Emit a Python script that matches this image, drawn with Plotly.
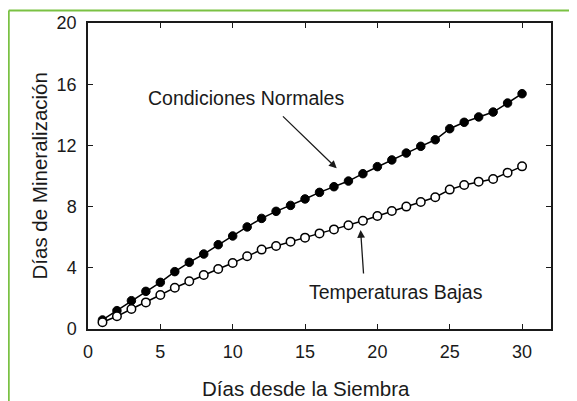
import plotly.graph_objects as go

dias = list(range(1, 31))
normales = [0.59, 1.2, 1.85, 2.46, 3.05, 3.75, 4.36, 4.9, 5.51, 6.08,
            6.67, 7.23, 7.69, 8.08, 8.5, 8.93, 9.3, 9.67, 10.15, 10.61,
            11.05, 11.5, 11.94, 12.37, 13.09, 13.51, 13.86, 14.18, 14.77, 15.38]
bajas = [0.44, 0.83, 1.31, 1.74, 2.22, 2.7, 3.12, 3.53, 3.92, 4.31,
         4.75, 5.19, 5.42, 5.71, 5.97, 6.25, 6.51, 6.78, 7.08, 7.39,
         7.71, 8.0, 8.3, 8.61, 9.11, 9.41, 9.63, 9.8, 10.22, 10.63]
x_ticks = [0, 5, 10, 15, 20, 25, 30]
y_ticks = [0, 4, 8, 12, 16, 20]

FONT = "Liberation Sans, Arial, sans-serif"
INK = "#1a1a1a"

fig = go.Figure()
fig.add_trace(go.Scatter(
    x=dias, y=normales, mode="lines+markers",
    line=dict(color="black", width=1.5),
    marker=dict(symbol="circle", size=8.5, color="black", line=dict(color="black", width=1)),
    name="Condiciones Normales", showlegend=False, cliponaxis=False))
fig.add_trace(go.Scatter(
    x=dias, y=bajas, mode="lines+markers",
    line=dict(color="black", width=1.5),
    marker=dict(symbol="circle", size=8.5, color="white", line=dict(color="black", width=1.5)),
    name="Temperaturas Bajas", showlegend=False, cliponaxis=False))

fig.add_annotation(x=17.19, y=10.5, ax=13.37, ay=13.99, xref="x", yref="y", axref="x", ayref="y",
                   showarrow=True, arrowhead=2, arrowsize=1.2, arrowwidth=1.3, arrowcolor=INK, text="")
fig.add_annotation(x=18.84, y=6.47, ax=19.05, ay=3.53, xref="x", yref="y", axref="x", ayref="y",
                   showarrow=True, arrowhead=2, arrowsize=1.2, arrowwidth=1.3, arrowcolor=INK, text="")
fig.add_annotation(x=10.95, y=15.13, xref="x", yref="y", text="Condiciones Normales",
                   xanchor="center", yanchor="middle",
                   showarrow=False, font=dict(family=FONT, size=19.5, color=INK))
fig.add_annotation(x=21.29, y=2.42, xref="x", yref="y", text="Temperaturas Bajas",
                   xanchor="center", yanchor="middle",
                   showarrow=False, font=dict(family=FONT, size=19.5, color=INK))

# axis titles
fig.add_annotation(x=0.471, y=-0.193, xref="paper", yref="paper", text="Días desde la Siembra",
                   xanchor="center", yanchor="middle",
                   showarrow=False, font=dict(family=FONT, size=20.5, color=INK))
fig.add_annotation(x=-0.1048, y=0.5, xref="paper", yref="paper", text="Días de Mineralización",
                   xanchor="center", yanchor="middle",
                   textangle=-90, showarrow=False, font=dict(family=FONT, size=20.5, color=INK))

# green frame (left and top edges of the image)
fig.add_shape(type="line", xref="paper", yref="paper", x0=-0.1712, x1=-0.1712, y0=1.0408, y1=-0.29,
              line=dict(color="#7ac143", width=2))
fig.add_shape(type="line", xref="paper", yref="paper", x0=-0.1712, x1=1.08, y0=1.0408, y1=1.0408,
              line=dict(color="#7ac143", width=2))

fig.update_xaxes(range=[0, 32], tickvals=x_ticks, ticktext=[str(v) for v in x_ticks],
                 ticks="inside", ticklen=5, tickcolor=INK, showline=True, linecolor=INK, linewidth=1.5,
                 mirror="ticks", showgrid=False, zeroline=False, automargin=False,
                 ticklabelstandoff=6,
                 tickfont=dict(family=FONT, size=18, color=INK))
fig.update_yaxes(range=[0, 20], tickvals=y_ticks, ticktext=[str(v) for v in y_ticks],
                 ticks="inside", ticklen=5, tickcolor=INK, showline=True, linecolor=INK, linewidth=1.5,
                 mirror="ticks", showgrid=False, zeroline=False, automargin=False,
                 ticklabelstandoff=6,
                 tickfont=dict(family=FONT, size=18, color=INK))

fig.update_layout(width=577, height=401, margin=dict(l=80, r=34, t=15, b=80),
                  plot_bgcolor="white", paper_bgcolor="white")
fig.write_html("out.html")
